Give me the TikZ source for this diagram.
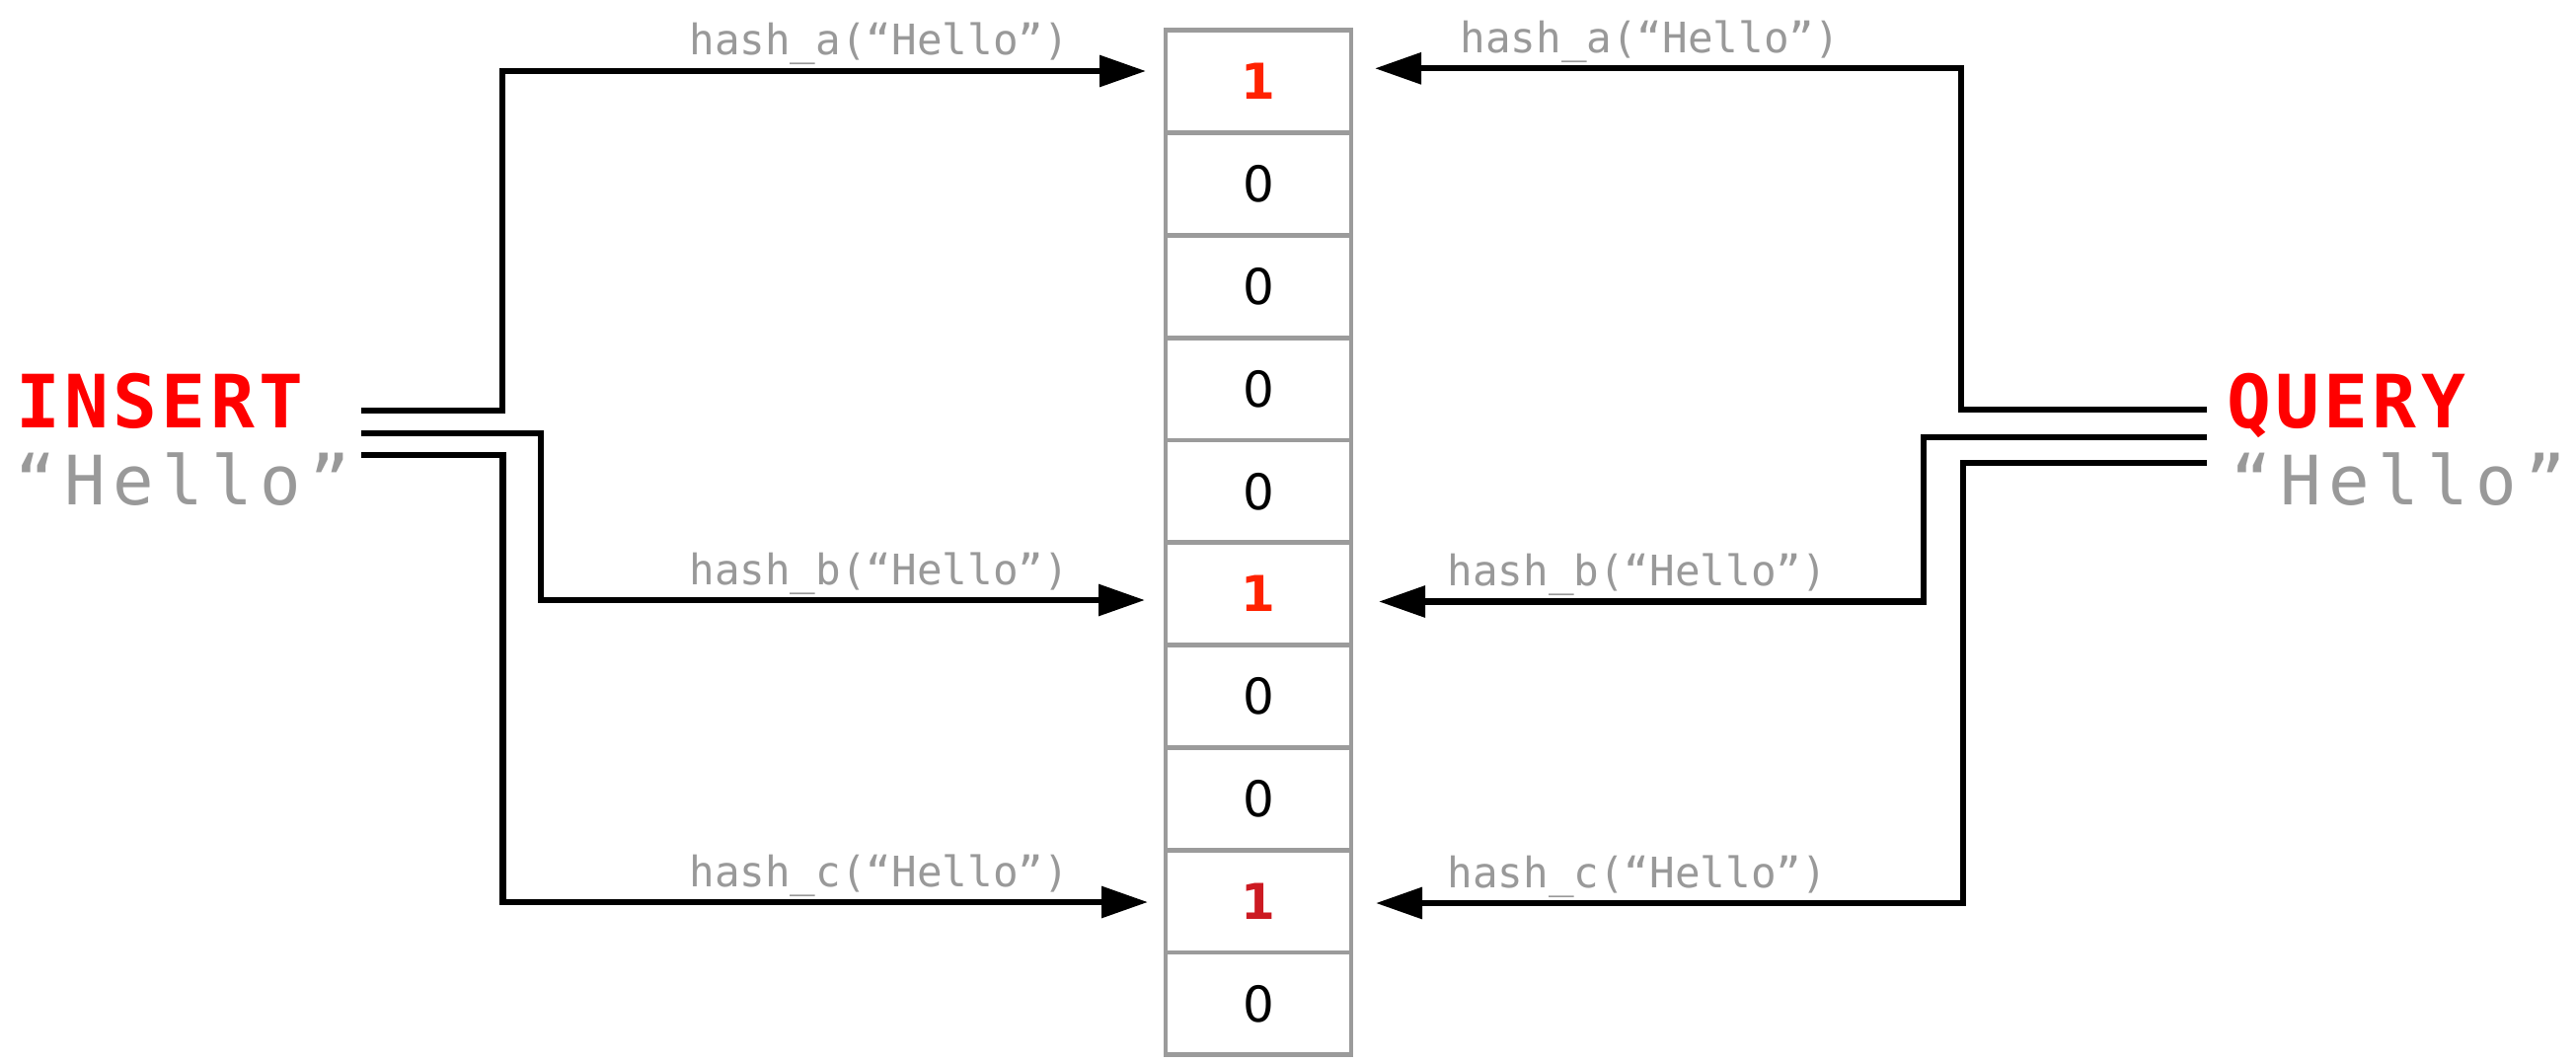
\documentclass[tikz,border=0pt]{standalone}
\usepackage{fontspec}
\usetikzlibrary{arrows.meta}
\setmainfont{DejaVu Sans}
\newfontfamily\monofont{DejaVu Sans Mono}
\newfontfamily\keyfont{DejaVu Sans Mono}[LetterSpace=5.8]
\newfontfamily\wordfont{DejaVu Sans Mono}[LetterSpace=11.8]
\definecolor{arraygrey}{HTML}{9B9B9B}
\definecolor{textgrey}{HTML}{999999}
\definecolor{keyred}{HTML}{FF0000}
\definecolor{bitred}{HTML}{FF2200}
\definecolor{bitdark}{HTML}{CC1A22}
\newcommand{\bitset}[1]{\textcolor{#1}{\bfseries 1}}
\begin{document}
\begin{tikzpicture}[x=0.5pt,y=-0.5pt,
  cell/.style={draw=arraygrey, line width=2.4pt, minimum width=94pt,
    minimum height=51.9pt, inner sep=0pt, font=\fontsize{25}{30}\selectfont},
  conn/.style={line width=3.1pt, -{Triangle[length=23.5pt,width=15.5pt]}},
  hashlbl/.style={anchor=base west, inner sep=0pt, text=textgrey,
    font=\monofont\fontsize{21.3}{25}\selectfont},
  keyword/.style={anchor=base west, inner sep=0pt, text=keyred,
    font=\keyfont\bfseries\fontsize{37.25}{44}\selectfont},
  argword/.style={anchor=base west, inner sep=0pt, text=textgrey,
    font=\wordfont\fontsize{34.5}{41}\selectfont}]
\useasboundingbox (0,0) rectangle (2610,1076);

% bit array
\node[cell] (c0) at (1275, 82.6)  {\bitset{bitred}};
\node[cell] (c1) at (1275, 186.4) {0};
\node[cell] (c2) at (1275, 290.2) {0};
\node[cell] (c3) at (1275, 394.0) {0};
\node[cell] (c4) at (1275, 497.8) {0};
\node[cell] (c5) at (1275, 601.6) {\bitset{bitred}};
\node[cell] (c6) at (1275, 705.4) {0};
\node[cell] (c7) at (1275, 809.2) {0};
\node[cell] (c8) at (1275, 913.0) {\bitset{bitdark}};
\node[cell] (c9) at (1275, 1016.8) {0};

% operation labels
\node[keyword] (ins) at (16, 433) {INSERT};
\node[argword] (insarg) at (15, 511) {“Hello”};
\node[keyword] (qry) at (2256, 433) {QUERY};
\node[argword] (qryarg) at (2260, 511) {“Hello”};

% connector ends
\coordinate (ia) at (366, 415.7);
\coordinate (ib) at (366, 439.3);
\coordinate (ic) at (366, 460.7);
\coordinate (qa) at (2236, 415.0);
\coordinate (qb) at (2236, 442.7);
\coordinate (qc) at (2236, 469.3);
\coordinate (lta) at (1161, 72);
\coordinate (ltb) at (1160, 608);
\coordinate (ltc) at (1163, 914);
\coordinate (rta) at (1393, 69.3);
\coordinate (rtb) at (1397, 609.5);
\coordinate (rtc) at (1394, 915);

% insert paths
\draw[conn] (ia) -| (509, 72) -- (lta);
\draw[conn] (ib) -| (548, 608) -- (ltb);
\draw[conn] (ic) -| (509.5, 914) -- (ltc);
% query paths
\draw[conn] (qa) -| (1987, 69.3) -- (rta);
\draw[conn] (qb) -| (1949, 609.5) -- (rtb);
\draw[conn] (qc) -| (1989, 915) -- (rtc);

% hash labels
\node[hashlbl] (la) at (698, 55)  {hash\_a(“Hello”)};
\node[hashlbl] (lb) at (698, 592) {hash\_b(“Hello”)};
\node[hashlbl] (lc) at (698, 898) {hash\_c(“Hello”)};
\node[hashlbl] (ra) at (1479, 53) {hash\_a(“Hello”)};
\node[hashlbl] (rb) at (1466, 593) {hash\_b(“Hello”)};
\node[hashlbl] (rc) at (1466, 899) {hash\_c(“Hello”)};
\end{tikzpicture}
\end{document}
